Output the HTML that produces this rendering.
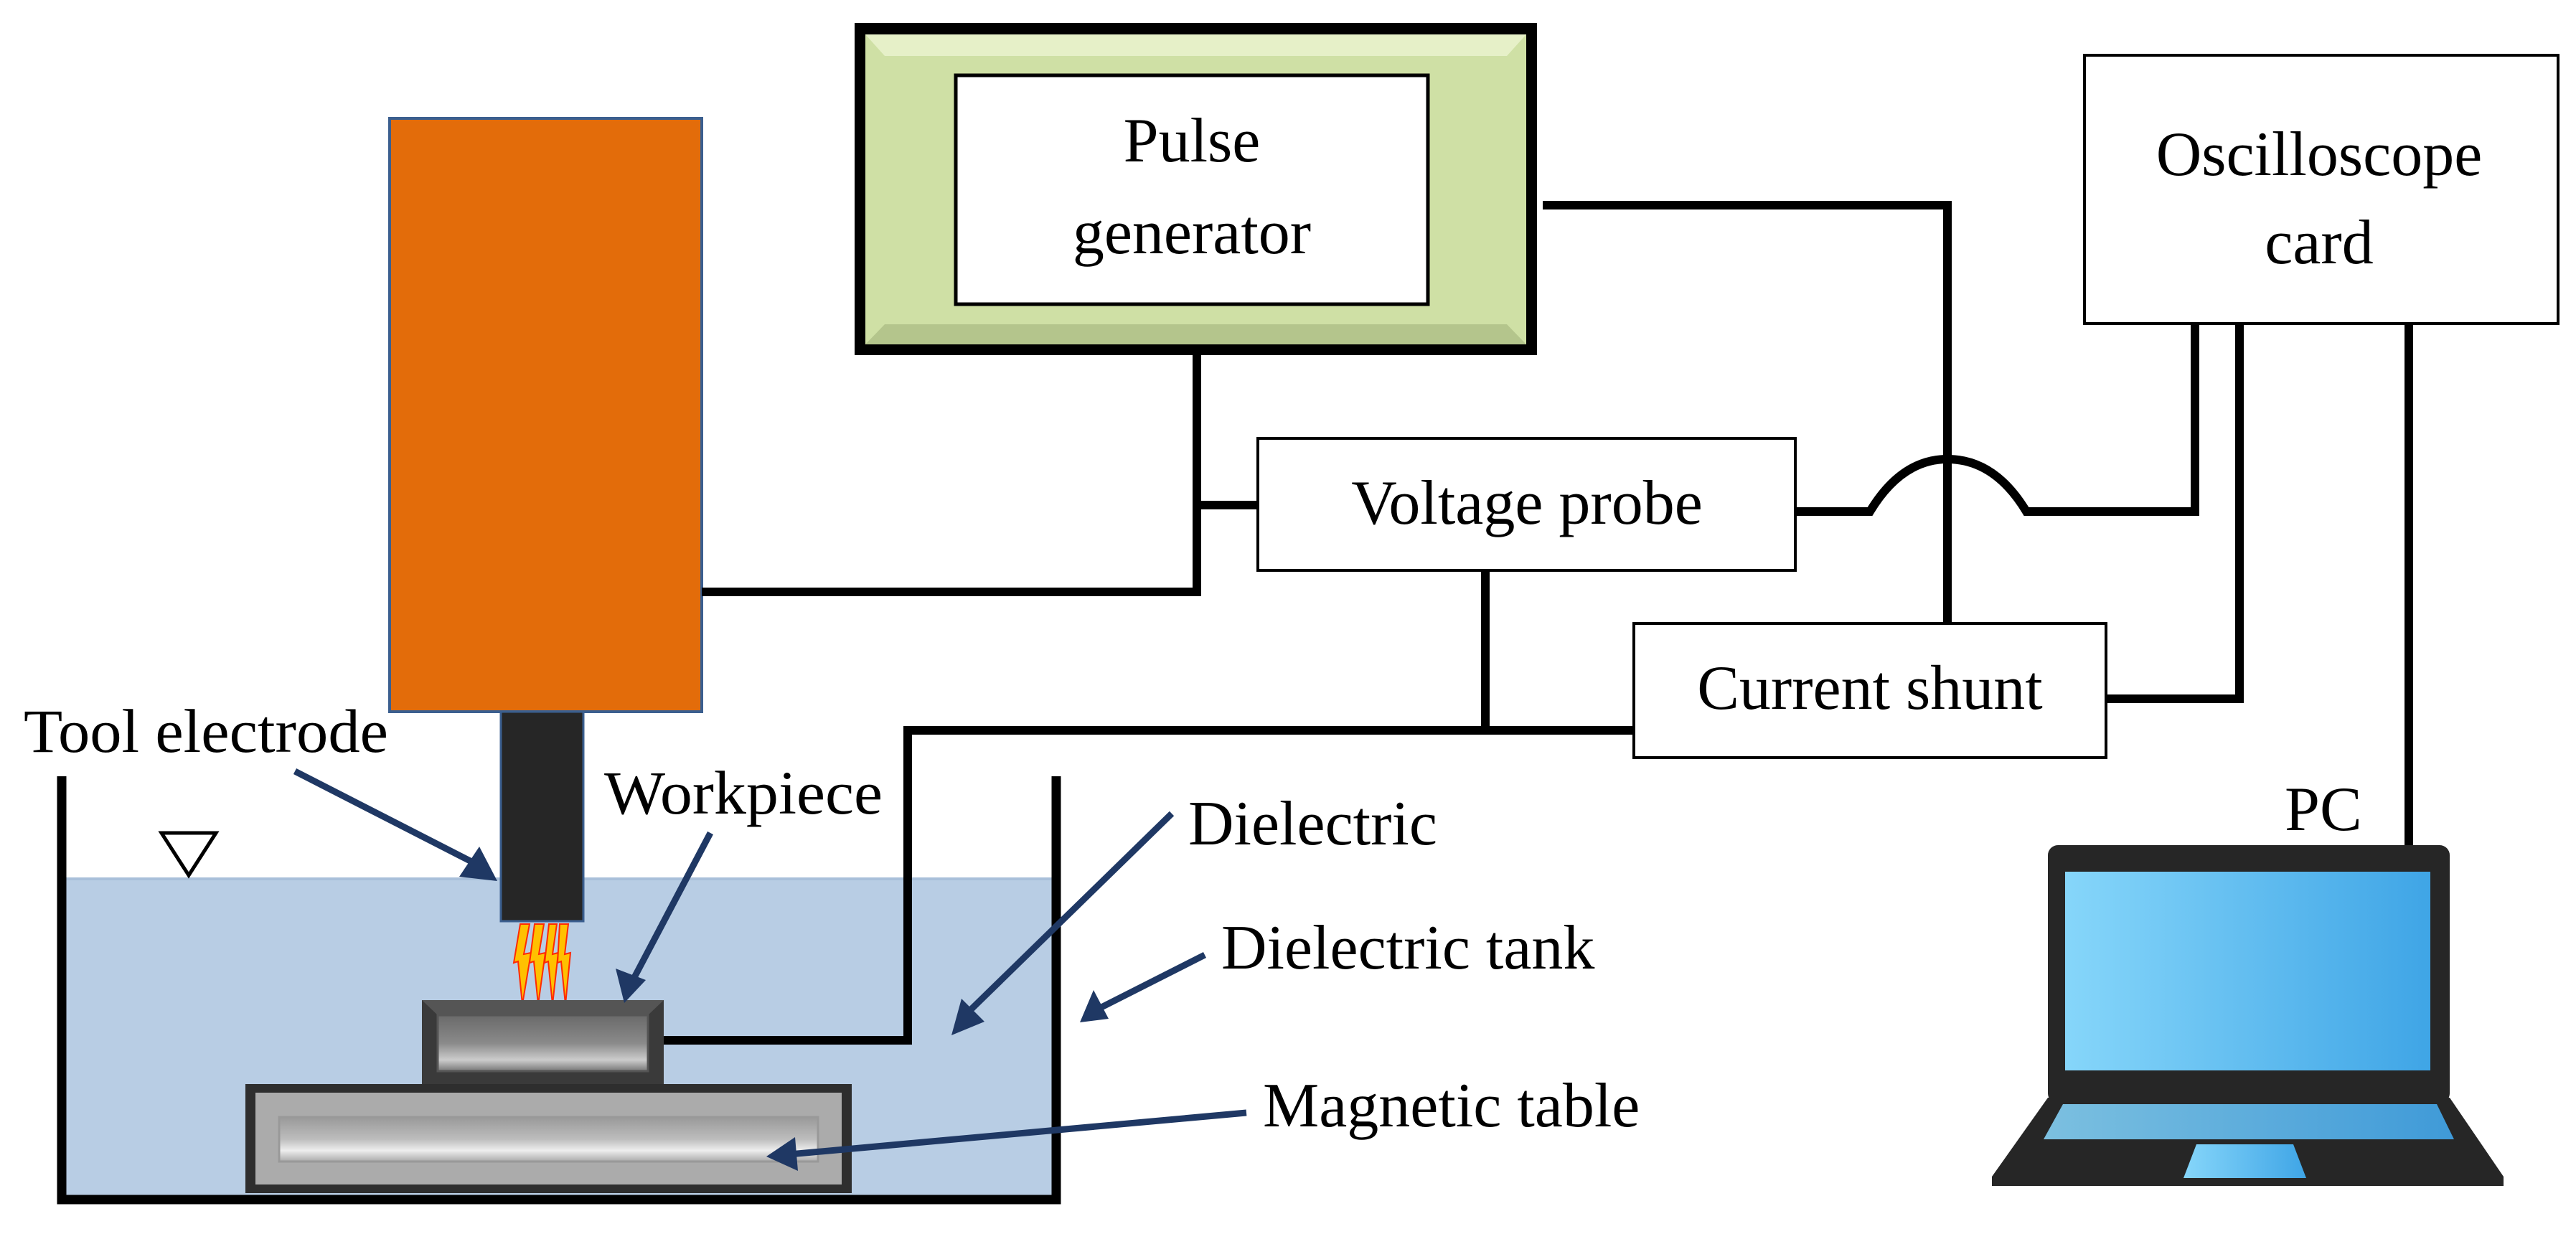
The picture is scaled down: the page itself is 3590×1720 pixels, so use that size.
<!DOCTYPE html>
<html><head><meta charset="utf-8"><style>html,body{margin:0;padding:0;background:#fff}svg{display:block}text{font-family:"Liberation Serif",serif;fill:#000}</style></head>
<body>
<svg width="3590" height="1720" viewBox="0 0 3590 1720" xmlns="http://www.w3.org/2000/svg">
<defs>
<linearGradient id="scr" x1="0" y1="0" x2="1" y2="0"><stop offset="0" stop-color="#86d6fa"/><stop offset="1" stop-color="#3fa5e6"/></linearGradient>
<linearGradient id="kb" x1="0" y1="0" x2="1" y2="0"><stop offset="0" stop-color="#7cc0e0"/><stop offset="1" stop-color="#3f9ad8"/></linearGradient>
<linearGradient id="met" x1="0" y1="0" x2="0" y2="1"><stop offset="0" stop-color="#999"/><stop offset="0.5" stop-color="#bdbdbd"/><stop offset="0.75" stop-color="#eee"/><stop offset="1" stop-color="#aaa"/></linearGradient>
<linearGradient id="wp" x1="0" y1="0" x2="0" y2="1"><stop offset="0" stop-color="#6a6a6a"/><stop offset="0.5" stop-color="#8a8a8a"/><stop offset="0.8" stop-color="#ccc"/><stop offset="1" stop-color="#777"/></linearGradient>
</defs>

<rect x="92" y="1225" width="1374" height="445" fill="#b8cde4"/>
<line x1="92" y1="1225" x2="1466" y2="1225" stroke="#a9c0da" stroke-width="4"/>
<path d="M86 1082 V1672 H1472 V1082" fill="none" stroke="#000" stroke-width="13"/>
<polygon points="225,1161 301,1161 263,1220" fill="#fff" stroke="#000" stroke-width="5"/>

<rect x="543" y="165" width="435" height="827" fill="#e36c0a" stroke="#3b5f8f" stroke-width="4"/>
<rect x="698" y="992" width="115" height="292" fill="#262626" stroke="#3b5f8f" stroke-width="3"/>
<g fill="#ffc000" stroke="#ff2a00" stroke-width="2">
<polygon points="725,1288 738,1288 730,1330 740,1328 728,1400 722,1340 716,1342"/>
<polygon points="745,1288 758,1288 751,1330 760,1328 750,1400 744,1340 738,1342"/>
<polygon points="765,1288 776,1288 770,1330 778,1328 770,1400 764,1340 759,1342"/>
<polygon points="780,1288 792,1288 787,1330 795,1328 788,1400 782,1340 777,1342"/>
</g>
<rect x="588" y="1394" width="337" height="117" fill="#3a3a3a"/>
<polygon points="588,1394 925,1394 903,1415 610,1415" fill="#555"/>
<rect x="610" y="1415" width="293" height="78" fill="url(#wp)" stroke="#555" stroke-width="3"/>
<rect x="342" y="1511" width="845" height="152" fill="#2e2e2e"/>
<rect x="356" y="1523" width="817" height="128" fill="#ababab"/>
<rect x="389" y="1557" width="751" height="62" fill="url(#met)" stroke="#999" stroke-width="3"/>

<rect x="1191" y="32" width="951" height="463" fill="#000"/>
<rect x="1206" y="48" width="921" height="432" fill="#cfe0a5"/>
<polygon points="1206,48 2127,48 2100,78 1233,78" fill="#e6f0c8"/>
<polygon points="1206,480 2127,480 2100,452 1233,452" fill="#b4c58c"/>
<rect x="1332" y="105" width="658" height="319" fill="#fff" stroke="#000" stroke-width="5"/>
<text x="1661" y="225" font-size="88" text-anchor="middle">Pulse</text>
<text x="1661" y="353" font-size="88" text-anchor="middle">generator</text>

<rect x="2905" y="77" width="660" height="374" fill="#fff" stroke="#000" stroke-width="4"/>
<text x="3232" y="244" font-size="88" text-anchor="middle">Oscilloscope</text>
<text x="3232" y="367" font-size="88" text-anchor="middle">card</text>

<rect x="1753" y="611" width="749" height="184" fill="#fff" stroke="#000" stroke-width="4"/>
<text x="2128" y="730" font-size="88" text-anchor="middle">Voltage probe</text>

<rect x="2277" y="869" width="658" height="187" fill="#fff" stroke="#000" stroke-width="4"/>
<text x="2606" y="988" font-size="88" text-anchor="middle">Current shunt</text>

<g fill="none" stroke="#000" stroke-width="12" stroke-linejoin="miter">
<path d="M1668 495 V825 H978"/>
<path d="M1668 704 H1753"/>
<path d="M2150 286 H2714 V869"/>
<path d="M2502 713 H2606 Q2650 640 2714 640 Q2780 640 2824 713 H3059 V451"/>
<path d="M2935 974 H3121 V451"/>
<path d="M3357 451 V1180"/>
<path d="M2070 795 V1018"/>
<path d="M2277 1018 H1265 V1450 H925"/>
</g>

<rect x="2854" y="1178" width="560" height="360" rx="14" fill="#262626"/>
<rect x="2878" y="1215" width="509" height="277" fill="url(#scr)"/>
<polygon points="2854,1530 3414,1530 3489,1640 3489,1653 2776,1653 2776,1640" fill="#262626"/>
<polygon points="2875,1539 3396,1539 3420,1588 2848,1588" fill="url(#kb)"/>
<polygon points="3061,1595 3196,1595 3214,1642 3043,1642" fill="url(#scr)"/>
<text x="3184" y="1157" font-size="88">PC</text>

<text x="33" y="1048" font-size="86" textLength="508" lengthAdjust="spacingAndGlyphs">Tool electrode</text>
<text x="842" y="1134" font-size="86" textLength="388" lengthAdjust="spacingAndGlyphs">Workpiece</text>
<text x="1656" y="1177" font-size="88">Dielectric</text>
<text x="1702" y="1350" font-size="88">Dielectric tank</text>
<text x="1760" y="1570" font-size="88">Magnetic table</text>

<g stroke="#1f3864" stroke-width="9" fill="#1f3864">
<line x1="411" y1="1075" x2="665" y2="1205"/>
<polygon points="693,1228 640,1222 668,1180" stroke="none"/>
<line x1="990" y1="1161" x2="880" y2="1370"/>
<polygon points="870,1398 858,1350 900,1366" stroke="none"/>
<line x1="1633" y1="1134" x2="1345" y2="1415"/>
<polygon points="1326,1443 1340,1392 1372,1424" stroke="none"/>
<line x1="1679" y1="1331" x2="1527" y2="1408"/>
<polygon points="1505,1425 1524,1380 1545,1420" stroke="none"/>
<line x1="1737" y1="1551" x2="1100" y2="1609"/>
<polygon points="1068,1612 1108,1585 1112,1632" stroke="none"/>
</g>
</svg>
</body></html>
